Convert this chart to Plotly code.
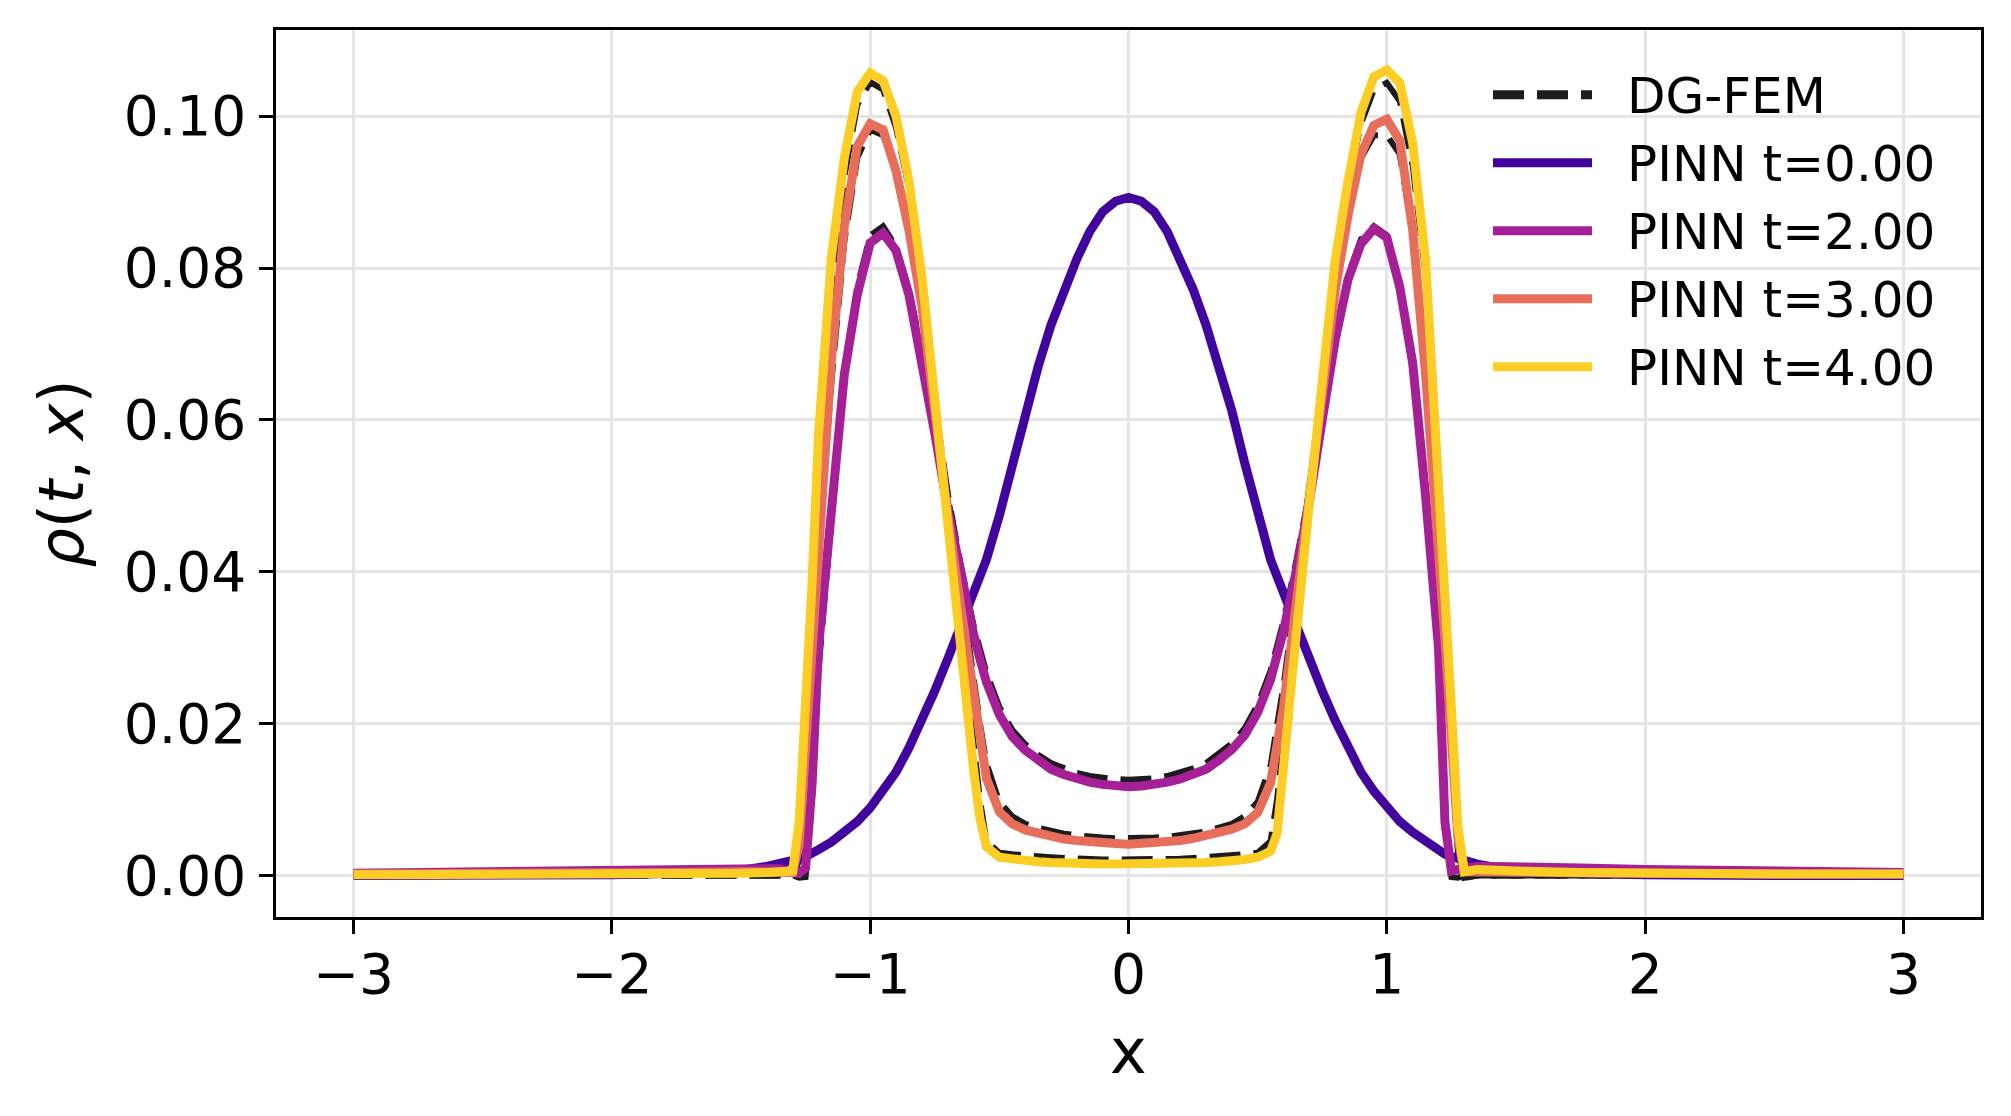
import plotly.graph_objects as go

# ---------------- data ----------------
X = [-3.0, -2.5, -2.0, -1.75, -1.5, -1.4, -1.35, -1.3, -1.275, -1.25, -1.225, -1.2,
     -1.15, -1.1, -1.05, -1.0, -0.95, -0.9, -0.85, -0.8, -0.75, -0.7, -0.65, -0.6,
     -0.575, -0.55, -0.5, -0.45, -0.4, -0.35, -0.3, -0.25, -0.2, -0.15, -0.1, -0.05, 0.0,
     0.05, 0.1, 0.15, 0.2, 0.25, 0.3, 0.35, 0.4, 0.45, 0.5, 0.55, 0.575, 0.6, 0.65, 0.7, 0.75, 0.8, 0.85,
     0.9, 0.95, 1.0, 1.05, 1.1, 1.15, 1.2, 1.225, 1.25, 1.275, 1.3, 1.35, 1.4, 1.5,
     1.75, 2.0, 2.5, 3.0]

pinn_t0 = [0.0000, 0.0000, 0.0001, 0.0003, 0.0007, 0.0012, 0.0015, 0.0019, 0.0022, 0.0025, 0.0028, 0.0034,
           0.0044, 0.0057, 0.0071, 0.0089, 0.0111, 0.0136, 0.0168, 0.0204, 0.0243, 0.0285, 0.0327, 0.0372,
           0.0394, 0.0416, 0.0474, 0.0543, 0.0612, 0.0670, 0.0725, 0.0772, 0.0812, 0.0848, 0.0874, 0.0888, 0.0893,
           0.0888, 0.0874, 0.0848, 0.0812, 0.0772, 0.0725, 0.0670, 0.0612, 0.0543, 0.0474, 0.0416, 0.0394, 0.0372, 0.0327, 0.0285, 0.0243, 0.0204, 0.0168,
           0.0136, 0.0111, 0.0089, 0.0071, 0.0057, 0.0044, 0.0034, 0.0028, 0.0025, 0.0022, 0.0019, 0.0015, 0.0012, 0.0007,
           0.0003, 0.0001, 0.0000, 0.0000]

pinn_t2 = [0.0003, 0.0005, 0.0007, 0.0009, 0.0011, 0.0011, 0.0009, 0.0004, 0.0003, 0.0010, 0.0120, 0.0300,
           0.0480, 0.0660, 0.0765, 0.0833, 0.0846, 0.0823, 0.0765, 0.0678, 0.0583, 0.0483, 0.0395, 0.0318,
           0.0285, 0.0255, 0.0212, 0.0183, 0.0165, 0.0151, 0.0140, 0.0133, 0.0127, 0.0123, 0.0120, 0.0118, 0.0117,
           0.0118, 0.0120, 0.0123, 0.0127, 0.0133, 0.0140, 0.0152, 0.0166, 0.0185, 0.0215, 0.0258, 0.0288, 0.0322, 0.0402, 0.0492, 0.0600, 0.0705, 0.0785,
           0.0832, 0.0852, 0.0840, 0.0775, 0.0675, 0.0500, 0.0300, 0.0070, 0.0006, 0.0008, 0.0010, 0.0012, 0.0012, 0.0012,
           0.0010, 0.0008, 0.0006, 0.0004]

pinn_t3 = [0.0002, 0.0002, 0.0003, 0.0004, 0.0005, 0.0005, 0.0005, 0.0004, 0.0040, 0.0170, 0.0310, 0.0450,
           0.0680, 0.0855, 0.0960, 0.0990, 0.0982, 0.0928, 0.0850, 0.0750, 0.0605, 0.0475, 0.0355, 0.0235,
           0.0180, 0.0128, 0.0084, 0.0068, 0.0060, 0.0055, 0.0051, 0.0048, 0.0046, 0.0044, 0.0043, 0.0042, 0.0041,
           0.0042, 0.0043, 0.0044, 0.0046, 0.0049, 0.0052, 0.0056, 0.0061, 0.0068, 0.0083, 0.0122, 0.0165, 0.0222, 0.0360, 0.0500, 0.0640, 0.0770, 0.0870,
           0.0950, 0.0988, 0.0996, 0.0968, 0.0850, 0.0660, 0.0440, 0.0310, 0.0180, 0.0050, 0.0005, 0.0005, 0.0005, 0.0004,
           0.0003, 0.0003, 0.0002, 0.0002]

pinn_t4 = [0.0001, 0.0001, 0.0002, 0.0002, 0.0003, 0.0004, 0.0004, 0.0006, 0.0070, 0.0220, 0.0385, 0.0580,
           0.0815, 0.0945, 0.1032, 0.1057, 0.1047, 0.1000, 0.0915, 0.0790, 0.0625, 0.0455, 0.0295, 0.0140,
           0.0075, 0.0038, 0.0024, 0.0021, 0.0019, 0.0018, 0.0017, 0.0016, 0.0016, 0.0015, 0.0015, 0.0015, 0.0015,
           0.0015, 0.0015, 0.0015, 0.0016, 0.0016, 0.0017, 0.0018, 0.0019, 0.0021, 0.0024, 0.0032, 0.0055, 0.0150, 0.0320, 0.0490, 0.0660, 0.0810, 0.0915,
           0.1005, 0.1052, 0.1061, 0.1044, 0.0965, 0.0810, 0.0535, 0.0377, 0.0220, 0.0065, 0.0005, 0.0008, 0.0007, 0.0006,
           0.0004, 0.0003, 0.0002, 0.0002]

dg_t2 = [0.0, 0.0, 0.0, 0.0, 0.0, 0.0, 0.0, 0.0, -0.0003, -0.0002, 0.0100, 0.0270,
         0.0470, 0.0650, 0.0775, 0.0843, 0.0855, 0.0828, 0.0772, 0.0690, 0.0598, 0.0500, 0.0410, 0.0330,
         0.0297, 0.0267, 0.0222, 0.0192, 0.0173, 0.0159, 0.0148, 0.0141, 0.0135, 0.0131, 0.0128, 0.0127, 0.0126,
         0.0127, 0.0128, 0.0131, 0.0135, 0.0141, 0.0148, 0.0160, 0.0174, 0.0194, 0.0225, 0.0270, 0.0300, 0.0335, 0.0415, 0.0505, 0.0608, 0.0708, 0.0790,
         0.0838, 0.0855, 0.0843, 0.0780, 0.0670, 0.0495, 0.0290, 0.0090, -0.0002, -0.0003, 0.0, 0.0, 0.0, 0.0,
         0.0, 0.0, 0.0, 0.0]

dg_t3 = [0.0, 0.0, 0.0, 0.0, 0.0, 0.0, 0.0, -0.0002, 0.0020, 0.0140, 0.0280, 0.0420,
         0.0650, 0.0835, 0.0945, 0.0982, 0.0975, 0.0930, 0.0855, 0.0760, 0.0625, 0.0500, 0.0375, 0.0255,
         0.0200, 0.0148, 0.0097, 0.0078, 0.0068, 0.0063, 0.0058, 0.0055, 0.0053, 0.0051, 0.0050, 0.0049, 0.0049,
         0.0049, 0.0050, 0.0051, 0.0053, 0.0055, 0.0058, 0.0063, 0.0068, 0.0078, 0.0097, 0.0145, 0.0195, 0.0250, 0.0380, 0.0515, 0.0650, 0.0775, 0.0875,
         0.0945, 0.0975, 0.0975, 0.0950, 0.0845, 0.0660, 0.0440, 0.0300, 0.0160, 0.0030, -0.0003, 0.0, 0.0, 0.0,
         0.0, 0.0, 0.0, 0.0]

dg_t4 = [0.0, 0.0, 0.0, 0.0, 0.0, 0.0, 0.0, -0.0002, 0.0030, 0.0170, 0.0330, 0.0510,
         0.0760, 0.0920, 0.1015, 0.1045, 0.1035, 0.0985, 0.0905, 0.0790, 0.0635, 0.0470, 0.0320, 0.0175,
         0.0100, 0.0045, 0.0030, 0.0028, 0.0026, 0.0025, 0.0024, 0.0023, 0.0022, 0.0021, 0.0021, 0.0021, 0.0021,
         0.0021, 0.0021, 0.0021, 0.0022, 0.0023, 0.0024, 0.0025, 0.0026, 0.0028, 0.0030, 0.0045, 0.0100, 0.0175, 0.0330, 0.0490, 0.0650, 0.0800, 0.0910,
         0.0990, 0.1035, 0.1044, 0.1020, 0.0935, 0.0790, 0.0540, 0.0380, 0.0220, 0.0070, -0.0003, 0.0, 0.0, 0.0,
         0.0, 0.0, 0.0, 0.0]

pinn_labels = ["PINN t=0.00", "PINN t=2.00", "PINN t=3.00", "PINN t=4.00"]
dg_label = "DG-FEM"
x_ticks = [-3, -2, -1, 0, 1, 2, 3]
x_tick_text = ["\u22123", "\u22122", "\u22121", "0", "1", "2", "3"]
y_ticks = [0.0, 0.02, 0.04, 0.06, 0.08, 0.10]

# ---------------- styles ----------------
pinn_series = [pinn_t0, pinn_t2, pinn_t3, pinn_t4]
dg_series = [dg_t2, dg_t3, dg_t4]
pinn_colors = ["#41049d", "#a52097", "#e76e5b", "#fcce25"]
dg_color = "#1c1c1c"
FONT = "DejaVu Sans"
W, H = 2011, 1116
ML, MR, MT, MB = 276, 30, 30, 199
PW, PH = W - ML - MR, H - MT - MB

fig = go.Figure()
for ys in dg_series:
    fig.add_trace(go.Scatter(x=X, y=ys, mode="lines", showlegend=False,
                             line=dict(color=dg_color, width=6, dash="31px,13px")))
for ys, c in zip(pinn_series, pinn_colors):
    fig.add_trace(go.Scatter(x=X, y=ys, mode="lines", showlegend=False,
                             line=dict(color=c, width=9)))

# manual legend (matplotlib-like, no frame)
def px2paper_x(px):
    return (px - ML) / PW

def px2paper_y(py):
    return (H - MB - py) / PH

leg_x0, leg_x1, leg_tx = 1493, 1592, 1625
leg_rows = [94.7, 162.7, 230.7, 298.7, 366.7]
leg_items = [(dg_label, dg_color, "31px,13px")] + [
    (lab, c, "solid") for lab, c in zip(pinn_labels, pinn_colors)]
for (lab, c, dsh), ry in zip(leg_items, leg_rows):
    fig.add_shape(type="line", xref="paper", yref="paper",
                  x0=px2paper_x(leg_x0), x1=px2paper_x(leg_x1),
                  y0=px2paper_y(ry), y1=px2paper_y(ry),
                  line=dict(color=c, width=9, dash=dsh))
    fig.add_annotation(xref="paper", yref="paper", x=px2paper_x(leg_tx), y=px2paper_y(ry + 1),
                       text=lab, showarrow=False, xanchor="left", yanchor="middle",
                       font=dict(family=FONT, size=50, color="black"))

# axis titles
fig.add_annotation(xref="paper", yref="paper", x=0.5, y=px2paper_y(1051),
                   text="x", showarrow=False, xanchor="center", yanchor="middle",
                   font=dict(family=FONT, size=62, color="black"))
fig.add_annotation(xref="paper", yref="paper", x=px2paper_x(61), y=0.5,
                   text="<i>\u03c1</i>(<i>t</i>, <i>x</i>)", showarrow=False, textangle=-90,
                   xanchor="center", yanchor="middle",
                   font=dict(family=FONT, size=62, color="black"))

axis_common = dict(showline=True, linecolor="black", linewidth=2.5, mirror=True,
                   ticks="outside", ticklen=14, tickwidth=2.5, tickcolor="black",
                   showgrid=True, gridcolor="#e5e5e5", gridwidth=2.5, zeroline=False,
                   tickfont=dict(family=FONT, size=55, color="black"))
fig.update_xaxes(range=[-3.3, 3.3], tickvals=x_ticks, ticktext=x_tick_text,
                 ticklabelstandoff=-7, **axis_common)
fig.update_yaxes(range=[-0.005466, 0.11135], tickvals=y_ticks, tickformat=".2f",
                 ticklabelstandoff=2, **axis_common)

fig.update_layout(width=W, height=H, margin=dict(l=ML, r=MR, t=MT, b=MB, autoexpand=False),
                  paper_bgcolor="white", plot_bgcolor="white", showlegend=False,
                  font=dict(family=FONT, color="black"))

fig.write_html("out.html")
